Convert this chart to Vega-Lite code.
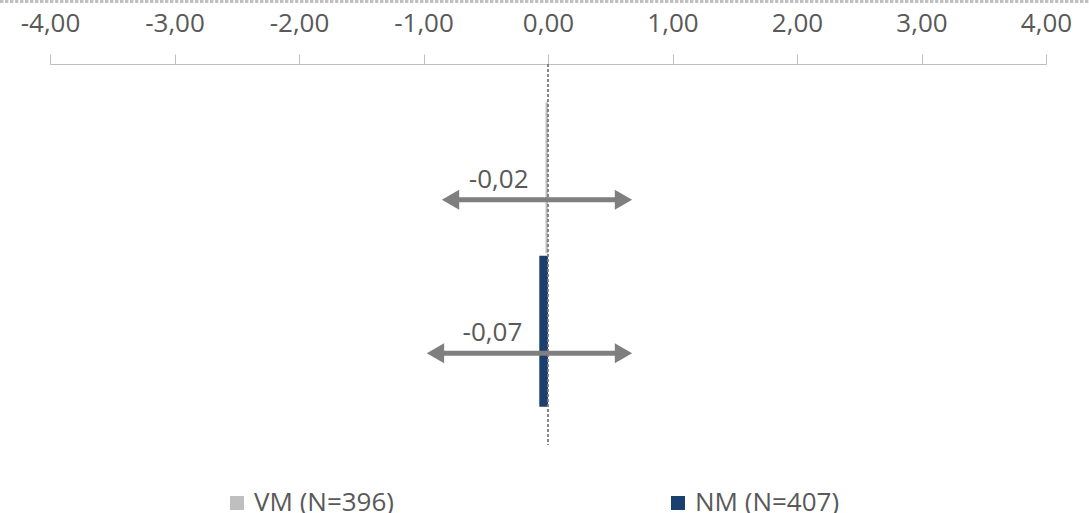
{
  "$schema": "https://vega.github.io/schema/vega-lite/v6.json",
  "width": 996,
  "height": 381,
  "autosize": {"type": "none"},
  "padding": {"left": 50, "top": 64, "right": 43, "bottom": 68},
  "background": "white",
  "config": {
    "font": "Open Sans",
    "view": {"stroke": null},
    "locale": {"number": {"decimal": ",", "thousands": ".", "grouping": [3], "currency": ["", " €"], "minus": "-"}}
  },
  "data": {
    "values": [
      {"group": "VM (N=396)", "mean": -0.02, "lo": -0.783, "hi": 0.606},
      {"group": "NM (N=407)", "mean": -0.07, "lo": -0.904, "hi": 0.606}
    ]
  },
  "layer": [
    {
      "layer": [
        {
          "mark": {"type": "bar"},
          "encoding": {
            "x": {
              "field": "mean", "type": "quantitative",
              "scale": {"domain": [-4, 4], "nice": false, "zero": false},
              "axis": {
                "orient": "top", "values": [-4, -3, -2, -1, 0, 1, 2, 3, 4], "format": ".2f",
                "title": null, "grid": false, "domainColor": "#BFBFBF", "tickColor": "#BFBFBF",
                "tickSize": 10, "labelFontSize": 26, "labelColor": "#595959", "labelPadding": 18,
                "labelFlush": false, "labelOverlap": false
              }
            },
            "x2": {"datum": 0},
            "y": {
              "field": "group", "type": "nominal",
              "scale": {"domain": ["VM (N=396)", "NM (N=407)"], "paddingInner": 0.015, "paddingOuter": 0.25},
              "axis": null
            },
            "color": {
              "field": "group", "type": "nominal",
              "scale": {"domain": ["VM (N=396)", "NM (N=407)"], "range": ["#BFBFBF", "#1B3F6E"]},
              "legend": {
                "orient": "none", "legendX": 174, "legendY": 426, "direction": "horizontal", "title": null,
                "symbolType": "square", "symbolSize": 196, "labelFontSize": 26, "labelColor": "#595959",
                "columnPadding": 270, "labelOffset": 4, "symbolStrokeWidth": 0, "padding": 0
              }
            }
          }
        },
        {
          "mark": {"type": "rule", "color": "#7F7F7F", "strokeDash": [3, 2], "strokeWidth": 1.5},
          "encoding": {"x": {"datum": 0, "type": "quantitative"}}
        },
        {
          "mark": {"type": "rule", "color": "#7F7F7F", "strokeWidth": 5, "yOffset": 22},
          "encoding": {
            "x": {"field": "lo", "type": "quantitative"},
            "x2": {"field": "hi"},
            "y": {"field": "group", "type": "nominal"}
          }
        },
        {
          "mark": {"type": "point", "shape": "triangle-left", "filled": true, "opacity": 1, "color": "#7F7F7F", "size": 400, "yOffset": 22},
          "encoding": {
            "x": {"field": "lo", "type": "quantitative"},
            "y": {"field": "group", "type": "nominal"}
          }
        },
        {
          "mark": {"type": "point", "shape": "triangle-right", "filled": true, "opacity": 1, "color": "#7F7F7F", "size": 400, "yOffset": 22},
          "encoding": {
            "x": {"field": "hi", "type": "quantitative"},
            "y": {"field": "group", "type": "nominal"}
          }
        },
        {
          "mark": {"type": "text", "align": "right", "baseline": "middle", "dx": -17, "dy": 2, "fontSize": 26, "color": "#595959"},
          "encoding": {
            "x": {"field": "mean", "type": "quantitative"},
            "y": {"field": "group", "type": "nominal"},
            "text": {"field": "mean", "type": "quantitative", "format": ".2f"}
          }
        }
      ]
    },
    {
      "mark": {"type": "rule", "color": "#BFBFBF", "strokeWidth": 3, "strokeDash": [3, 2]},
      "encoding": {
        "x": {"datum": -4.4, "type": "quantitative"},
        "x2": {"datum": 4.35},
        "y": {"datum": 1.164, "type": "quantitative", "scale": {"domain": [0, 1]}, "axis": null}
      }
    }
  ],
  "resolve": {"scale": {"y": "independent"}}
}
